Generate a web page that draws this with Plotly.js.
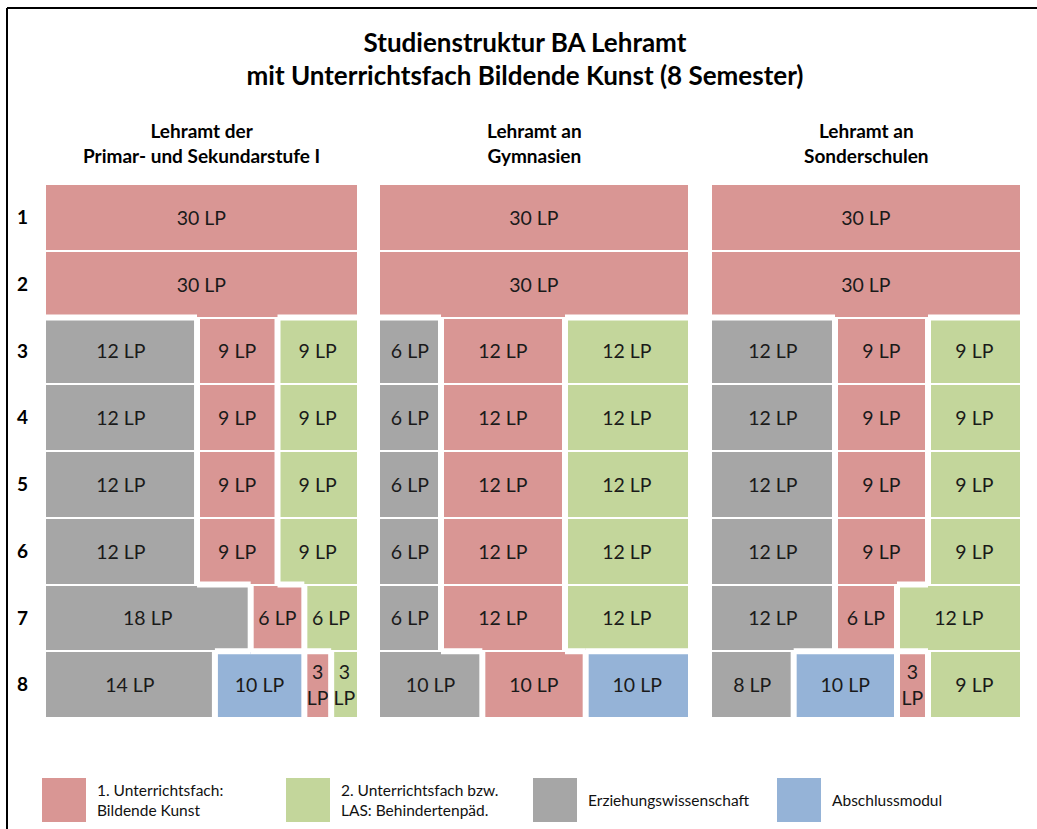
<!DOCTYPE html>
<html>
<head>
<meta charset="utf-8">
<script src="https://cdn.plot.ly/plotly-3.0.1.min.js"></script>
<style>html,body{margin:0;padding:0;background:#fff;}#chart{width:1037px;height:829px;}</style>
</head>
<body>
<div id="chart"></div>
<script>
// ---------------- DATA ----------------
const semesters = [1, 2, 3, 4, 5, 6, 7, 8];
const programs = [
  'Lehramt der<br>Primar- und Sekundarstufe I',
  'Lehramt an<br>Gymnasien',
  'Lehramt an<br>Sonderschulen'
];
const categories = [
  '1. Unterrichtsfach:<br>Bildende Kunst',
  '2. Unterrichtsfach bzw.<br>LAS: Behindertenpäd.',
  'Erziehungswissenschaft',
  'Abschlussmodul'
];
// LP per semester (1..8) for each program and category
const primarUF1  = [30, 30, 9, 9, 9, 9, 6, 3];
const primarUF2  = [0, 0, 9, 9, 9, 9, 6, 3];
const primarEW   = [0, 0, 12, 12, 12, 12, 18, 14];
const primarAM   = [0, 0, 0, 0, 0, 0, 0, 10];

const gymUF1     = [30, 30, 12, 12, 12, 12, 12, 10];
const gymUF2     = [0, 0, 12, 12, 12, 12, 12, 0];
const gymEW      = [0, 0, 6, 6, 6, 6, 6, 10];
const gymAM      = [0, 0, 0, 0, 0, 0, 0, 10];

const sonderUF1  = [30, 30, 9, 9, 9, 9, 6, 3];
const sonderUF2  = [0, 0, 9, 9, 9, 9, 12, 9];
const sonderEW   = [0, 0, 12, 12, 12, 12, 12, 8];
const sonderAM   = [0, 0, 0, 0, 0, 0, 0, 10];

const programData = [
  [primarUF1, primarUF2, primarEW, primarAM],
  [gymUF1, gymUF2, gymEW, gymAM],
  [sonderUF1, sonderUF2, sonderEW, sonderAM]
];

// ---------------- LAYOUT / STYLE ----------------
const W = 1037, H = 829;
const FONT = 'Lato, Liberation Sans, Arial, sans-serif';
const colors = ['#D99694', '#C3D69B', '#A6A6A6', '#95B3D7'];
const stackOrder = [[2, 3, 0, 1], [2, 0, 3, 1], [2, 3, 0, 1]]; // left-to-right order per panel
const stretch = [5, 0, 0];   // extra display units for the first block of each row (panel 1 is drawn wider on the left)
const panelPx = [[45, 358], [379, 689], [711, 1021]];
const rowsPx = [184, 718];
const THICK = 3; // half-width of the white separators (px)

const traces = [];
const shapes = [];
const annotations = [];

programData.forEach((cats, p) => {
  const xa = p === 0 ? 'x' : 'x' + (p + 1);
  const disp = cats.map(a => a.slice());
  semesters.forEach((s, i) => {
    for (const c of stackOrder[p]) {
      if (cats[c][i] > 0) { disp[c][i] += stretch[p]; break; }
    }
  });
  stackOrder[p].forEach(c => {
    traces.push({
      type: 'bar', orientation: 'h', xaxis: xa, yaxis: 'y',
      y: semesters,
      x: disp[c].map((v, i) => cats[c][i] > 0 ? v : null),
      text: cats[c].map((v, i) => v > 0 ? (disp[c][i] < 4 ? v + '<br>LP' : v + ' LP') : ''),
      textposition: 'inside', insidetextanchor: 'middle', textangle: 0,
      constraintext: 'none',
      insidetextfont: {family: FONT, size: 19.5, color: '#1a1a1a'},
      marker: {color: colors[c], line: {color: '#ffffff', width: 2}},
      hoverinfo: 'skip', showlegend: false, name: categories[c]
    });
  });
  const segs = semesters.map((s, i) => {
    const out = []; let pos = 0;
    stackOrder[p].forEach(c => {
      const v = cats[c][i];
      if (v > 0) { out.push({a: pos, b: pos + disp[c][i], c: c}); pos += disp[c][i]; }
    });
    return out;
  });
  const catAt = (row, x) => { for (const g of segs[row]) if (x > g.a && x < g.b) return g.c; return -1; };
  segs.forEach((row, i) => {
    for (let k = 0; k < row.length - 1; k++) {
      shapes.push({type: 'rect', xref: xa, yref: 'y', xsizemode: 'pixel', xanchor: row[k].b,
        x0: -THICK, x1: THICK, y0: semesters[i] - 0.5, y1: semesters[i] + 0.5,
        fillcolor: '#ffffff', line: {width: 0}, layer: 'above'});
    }
    if (i < segs.length - 1) {
      const bps = new Set([0]);
      row.forEach(g => bps.add(g.b));
      segs[i + 1].forEach(g => bps.add(g.b));
      const pts = Array.from(bps).sort((u, v) => u - v);
      for (let k = 0; k < pts.length - 1; k++) {
        const mid = (pts[k] + pts[k + 1]) / 2;
        if (catAt(i, mid) !== catAt(i + 1, mid)) {
          shapes.push({type: 'rect', xref: xa, yref: 'y', ysizemode: 'pixel', yanchor: semesters[i] + 0.5,
            y0: -THICK, y1: THICK, x0: pts[k], x1: pts[k + 1],
            fillcolor: '#ffffff', line: {width: 0}, layer: 'above'});
        }
      }
    }
  });
  annotations.push({
    xref: 'paper', yref: 'paper', x: (panelPx[p][0] + panelPx[p][1]) / 2 / W, y: 1 - 143 / H,
    xanchor: 'center', yanchor: 'middle', showarrow: false,
    text: '<b>' + programs[p].replace('<br>', '</b><br><b>') + '</b>',
    font: {family: FONT, size: 19, color: '#000'}
  });
});

// custom legend
const legX = [42, 286, 533, 777];
categories.forEach((name, c) => {
  shapes.push({type: 'rect', xref: 'paper', yref: 'paper',
    x0: legX[c] / W, x1: (legX[c] + 44) / W, y0: 1 - 822 / H, y1: 1 - 778 / H,
    fillcolor: colors[c], line: {width: 0}});
  annotations.push({xref: 'paper', yref: 'paper', x: (legX[c] + 53) / W, y: 1 - 800 / H,
    xanchor: 'left', yanchor: 'middle', align: 'left', showarrow: false,
    text: name, font: {family: FONT, size: 15.5, color: '#111'}});
});

// frame lines
shapes.push({type: 'line', xref: 'paper', yref: 'paper', x0: 7 / W, x1: 1, y0: 1 - 8 / H, y1: 1 - 8 / H,
  line: {color: '#000', width: 2}});
shapes.push({type: 'line', xref: 'paper', yref: 'paper', x0: 7 / W, x1: 7 / W, y0: 0, y1: 1 - 8 / H,
  line: {color: '#000', width: 2}});

const xaxisBase = (p) => ({
  domain: [panelPx[p][0] / W, panelPx[p][1] / W], range: [0, 30 + stretch[p]],
  visible: false, showgrid: false, zeroline: false, fixedrange: true, anchor: 'y'
});

const layout = {
  width: W, height: H,
  margin: {l: 0, r: 0, t: 0, b: 0, pad: 0},
  paper_bgcolor: '#ffffff', plot_bgcolor: 'rgba(0,0,0,0)',
  font: {family: FONT, color: '#000'},
  title: {
    text: '<b>Studienstruktur BA Lehramt</b><br><b>mit Unterrichtsfach Bildende Kunst (8 Semester)</b>',
    x: 525 / W, xanchor: 'center', y: 1 - 51.5 / H, yanchor: 'middle', yref: 'container',
    font: {family: FONT, size: 26, color: '#000'}
  },
  barmode: 'stack', bargap: 0,
  showlegend: false,
  xaxis: xaxisBase(0), xaxis2: xaxisBase(1), xaxis3: xaxisBase(2),
  yaxis: {
    domain: [1 - rowsPx[1] / H, 1 - rowsPx[0] / H], range: [8.5, 0.5],
    tickvals: semesters, ticktext: semesters.map(String),
    tickfont: {family: FONT, size: 19, color: '#000', weight: 'bold'},
    showgrid: false, zeroline: false, showline: false, ticks: '',
    ticklabelstandoff: 16, fixedrange: true, anchor: 'x'
  },
  shapes: shapes,
  annotations: annotations
};

Plotly.newPlot('chart', traces, layout, {displayModeBar: false, staticPlot: true});
</script>
</body>
</html>
